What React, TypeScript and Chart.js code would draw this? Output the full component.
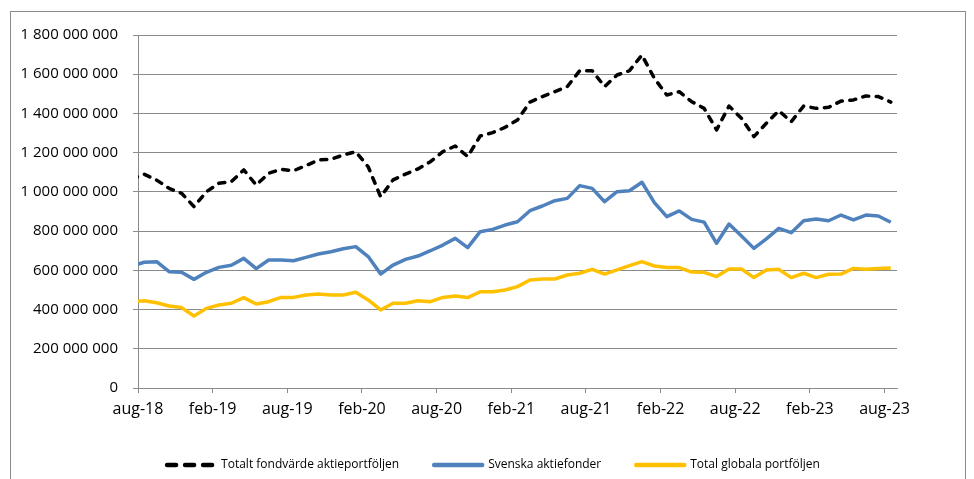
import React, { useEffect, useRef } from 'react';
import { Chart, registerables } from 'chart.js';

Chart.register(...registerables);

// Monthly categories (Swedish month abbreviations). The first month lies just
// before the axis start and is clipped, as in the reference.
const months = [
  'jul-18', 'aug-18', 'sep-18', 'okt-18', 'nov-18', 'dec-18',
  'jan-19', 'feb-19', 'mar-19', 'apr-19', 'maj-19', 'jun-19', 'jul-19', 'aug-19', 'sep-19', 'okt-19', 'nov-19', 'dec-19',
  'jan-20', 'feb-20', 'mar-20', 'apr-20', 'maj-20', 'jun-20', 'jul-20', 'aug-20', 'sep-20', 'okt-20', 'nov-20', 'dec-20',
  'jan-21', 'feb-21', 'mar-21', 'apr-21', 'maj-21', 'jun-21', 'jul-21', 'aug-21', 'sep-21', 'okt-21', 'nov-21', 'dec-21',
  'jan-22', 'feb-22', 'mar-22', 'apr-22', 'maj-22', 'jun-22', 'jul-22', 'aug-22', 'sep-22', 'okt-22', 'nov-22', 'dec-22',
  'jan-23', 'feb-23', 'mar-23', 'apr-23', 'maj-23', 'jun-23', 'jul-23', 'aug-23',
];

const tickLabels = ['aug-18', 'feb-19', 'aug-19', 'feb-20', 'aug-20', 'feb-21', 'aug-21', 'feb-22', 'aug-22', 'feb-23', 'aug-23'];
const axisStartLabel = 'aug-18';
const axisEndLabel = 'aug-23';

// Values in millions of SEK
const totaltFondvarde = [
  1066, 1090, 1060, 1018, 993, 925, 1001, 1044, 1052, 1112, 1035, 1095, 1115, 1108, 1134, 1163, 1166, 1188,
  1205, 1128, 975, 1061, 1091, 1117, 1154, 1205, 1234, 1180, 1285, 1302,
  1329, 1367, 1458, 1486, 1511, 1537, 1618, 1618, 1537, 1596, 1618, 1698,
  1579, 1494, 1511, 1460, 1426, 1316, 1438, 1375, 1282, 1350, 1414, 1358,
  1438, 1426, 1431, 1463, 1469, 1489, 1486, 1458,
];

const svenskaAktiefonder = [
  623, 641, 644, 593, 590, 554, 590, 615, 626, 661, 609, 653, 653, 649, 666, 683, 695, 710,
  721, 670, 581, 627, 656, 673, 700, 729, 763, 716, 797, 809,
  831, 848, 904, 928, 955, 967, 1032, 1018, 950, 1001, 1006, 1049,
  945, 874, 903, 860, 846, 738, 836, 775, 712, 760, 814, 792,
  853, 862, 853, 882, 857, 882, 877, 845,
];

const totalGlobala = [
  439, 445, 435, 418, 410, 367, 406, 423, 432, 461, 428, 440, 462, 462, 474, 479, 474, 474,
  488, 449, 398, 432, 432, 445, 440, 462, 469, 461, 491, 491,
  500, 517, 551, 556, 556, 576, 585, 605, 581, 602, 624, 644,
  622, 614, 614, 591, 590, 568, 607, 607, 563, 602, 605, 563,
  585, 563, 580, 581, 610, 605, 609, 612,
];

const seriesNames = ['Totalt fondvärde aktieportföljen', 'Svenska aktiefonder', 'Total globala portföljen'];
const seriesColors = ['#000000', '#4F81BD', '#FFC000'];

const yMin = 0;
const yMax = 1800000000;
const yStep = 200000000;

const gridColor = '#8a8a8a';
const fontFamily = "'Open Sans', 'Liberation Sans', sans-serif";

function formatThousands(v: number): string {
  return String(Math.round(v)).replace(/\B(?=(\d{3})+(?!\d))/g, ' ');
}

export default function App() {
  const ref = useRef<HTMLCanvasElement>(null);

  useEffect(() => {
    if (!ref.current) return;
    const start = months.indexOf(axisStartLabel);
    const pos = (label: string) => months.indexOf(label) - start;
    const toPoints = (vals: number[]) => vals.map((v, i) => ({ x: i - start + 0.5, y: v * 1e6 }));

    const allSeries = [totaltFondvarde, svenskaAktiefonder, totalGlobala];

    const chart = new Chart(ref.current, {
      type: 'line',
      data: {
        datasets: allSeries.map((vals, i) => ({
          label: seriesNames[i],
          data: toPoints(vals),
          borderColor: seriesColors[i],
          backgroundColor: seriesColors[i],
          borderWidth: 3.5,
          borderDash: i === 0 ? [6, 7.5] : [],
          borderCapStyle: i === 0 ? 'round' : 'butt',
          borderJoinStyle: 'round',
          pointRadius: 0,
          pointHoverRadius: 0,
          tension: 0,
          clip: 0,
          xAxisID: 'x',
          yAxisID: 'y',
        })),
      },
      options: {
        animation: false,
        responsive: false,
        devicePixelRatio: 1,
        layout: { padding: { left: 13, right: 0, top: 35, bottom: 5 } },
        scales: {
          x: {
            type: 'linear',
            position: 'bottom',
            min: 0,
            max: pos(axisEndLabel) + 1,
            afterBuildTicks: (s: any) => {
              s.ticks = tickLabels.map((l) => ({ value: pos(l) }));
            },
            afterFit: (s: any) => {
              s.height = 36;
            },
            ticks: {
              autoSkip: false,
              maxRotation: 0,
              minRotation: 0,
              padding: 7,
              color: '#000',
              font: { family: fontFamily, size: 16 },
              callback: (v: any) => months[Number(v) + start],
            },
            grid: {
              drawOnChartArea: false,
              drawTicks: true,
              tickLength: 5,
              color: gridColor,
              lineWidth: 1,
            },
            border: { display: true, color: gridColor, width: 1 },
          },
          y: {
            position: 'left',
            min: yMin,
            max: yMax,
            afterFit: (s: any) => {
              s.width = 125;
            },
            ticks: {
              stepSize: yStep,
              padding: 15,
              color: '#000',
              font: { family: fontFamily, size: 15 },
              callback: (v: any) => formatThousands(Number(v)),
            },
            grid: {
              color: gridColor,
              lineWidth: 1,
              drawTicks: true,
              tickLength: 5,
            },
            border: { display: true, color: gridColor, width: 1 },
          },
          // empty spacer on the right, keeps the plot narrower than the legend row
          spacer: {
            type: 'linear',
            position: 'right',
            display: true,
            afterFit: (s: any) => {
              s.width = 77;
            },
            ticks: { display: false },
            grid: { display: false, drawOnChartArea: false, drawTicks: false },
            border: { display: false },
          },
        },
        plugins: {
          tooltip: { enabled: false },
          legend: {
            position: 'bottom',
            maxHeight: 50,
            labels: {
              usePointStyle: true,
              pointStyle: 'line',
              pointStyleWidth: 48,
              padding: 35,
              color: '#000',
              font: { family: fontFamily, size: 12 },
              generateLabels: (c: any) =>
                (Chart.defaults.plugins.legend.labels as any).generateLabels(c).map((item: any) => ({
                  ...item,
                  lineWidth: 4.5,
                  lineCap: 'round',
                  lineDash: item.datasetIndex === 0 ? [9, 9] : [],
                })),
            },
          },
        },
      } as any,
    });

    return () => chart.destroy();
  }, []);

  return (
    <div style={{ position: 'fixed', left: 0, top: 0, width: 974, height: 479, background: '#fff', overflow: 'hidden' }}>
      <div
        style={{
          position: 'absolute',
          left: 10,
          top: 11,
          width: 954,
          height: 500,
          border: '1px solid #8a8a8a',
          boxSizing: 'content-box',
        }}
      />
      <canvas ref={ref} width={974} height={479} style={{ position: 'absolute', left: 0, top: 0, display: 'block' }} />
    </div>
  );
}
